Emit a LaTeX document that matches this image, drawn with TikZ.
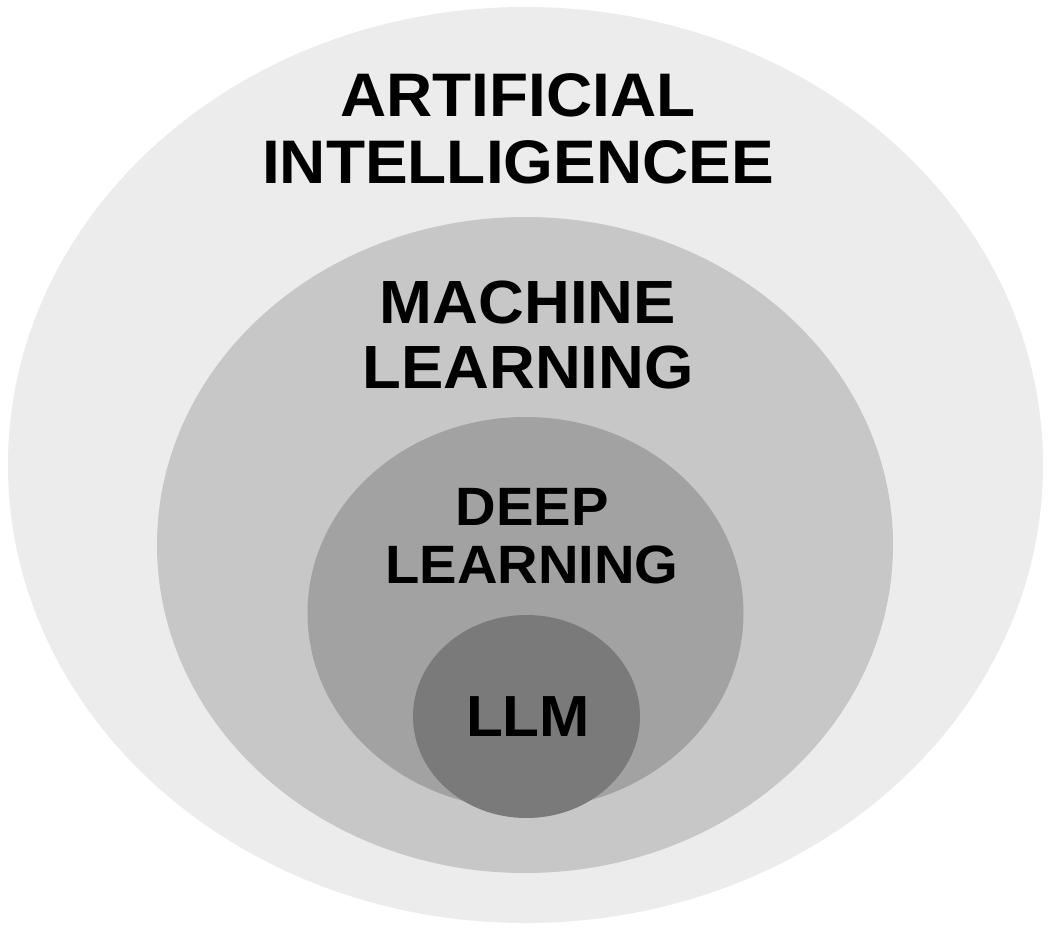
\documentclass[tikz,border=0pt]{standalone}
\usepackage{fontspec}
\setmainfont{Liberation Sans}[FakeStretch=1.04]

\definecolor{aigray}{gray}{0.925}
\definecolor{mlgray}{gray}{0.78}
\definecolor{dlgray}{gray}{0.635}
\definecolor{llmgray}{gray}{0.48}

\begin{document}
\begin{tikzpicture}[
		x=1pt, y=-1pt,
		ringlabel/.style={align=center, inner sep=0pt, text=black},
		aifont/.style={font=\bfseries\fontsize{61.5}{67}\selectfont},
		mlfont/.style={font=\bfseries\fontsize{61}{65}\selectfont},
		dlfont/.style={font=\bfseries\fontsize{54}{58}\selectfont},
		llmfont/.style={font=\bfseries\fontsize{58}{60}\selectfont}
	]

	\useasboundingbox (0,0) rectangle (1055,934);
	\fill[white] (0,0) rectangle (1055,934);

	% nested sets, outer to inner
	\fill[aigray] (525.5,465) ellipse [x radius=517.5pt, y radius=458pt];
	\fill[mlgray] (525,545) ellipse [x radius=368pt, y radius=328pt];
	\fill[dlgray] (525.5,613) ellipse [x radius=218pt, y radius=196pt];
	\fill[llmgray] (526.5,716.5) ellipse [x radius=113.5pt, y radius=101.5pt];

	\node[ringlabel, aifont] (ai) at (518,129) {ARTIFICIAL\\INTELLIGENCEE};
	\node[ringlabel, mlfont] (ml) at (528,335) {MACHINE\\LEARNING};
	\node[ringlabel, dlfont] (dl) at (532,536.5) {DEEP\\LEARNING};
	\node[ringlabel, llmfont] (llm) at (528,717) {LLM};

\end{tikzpicture}
\end{document}
